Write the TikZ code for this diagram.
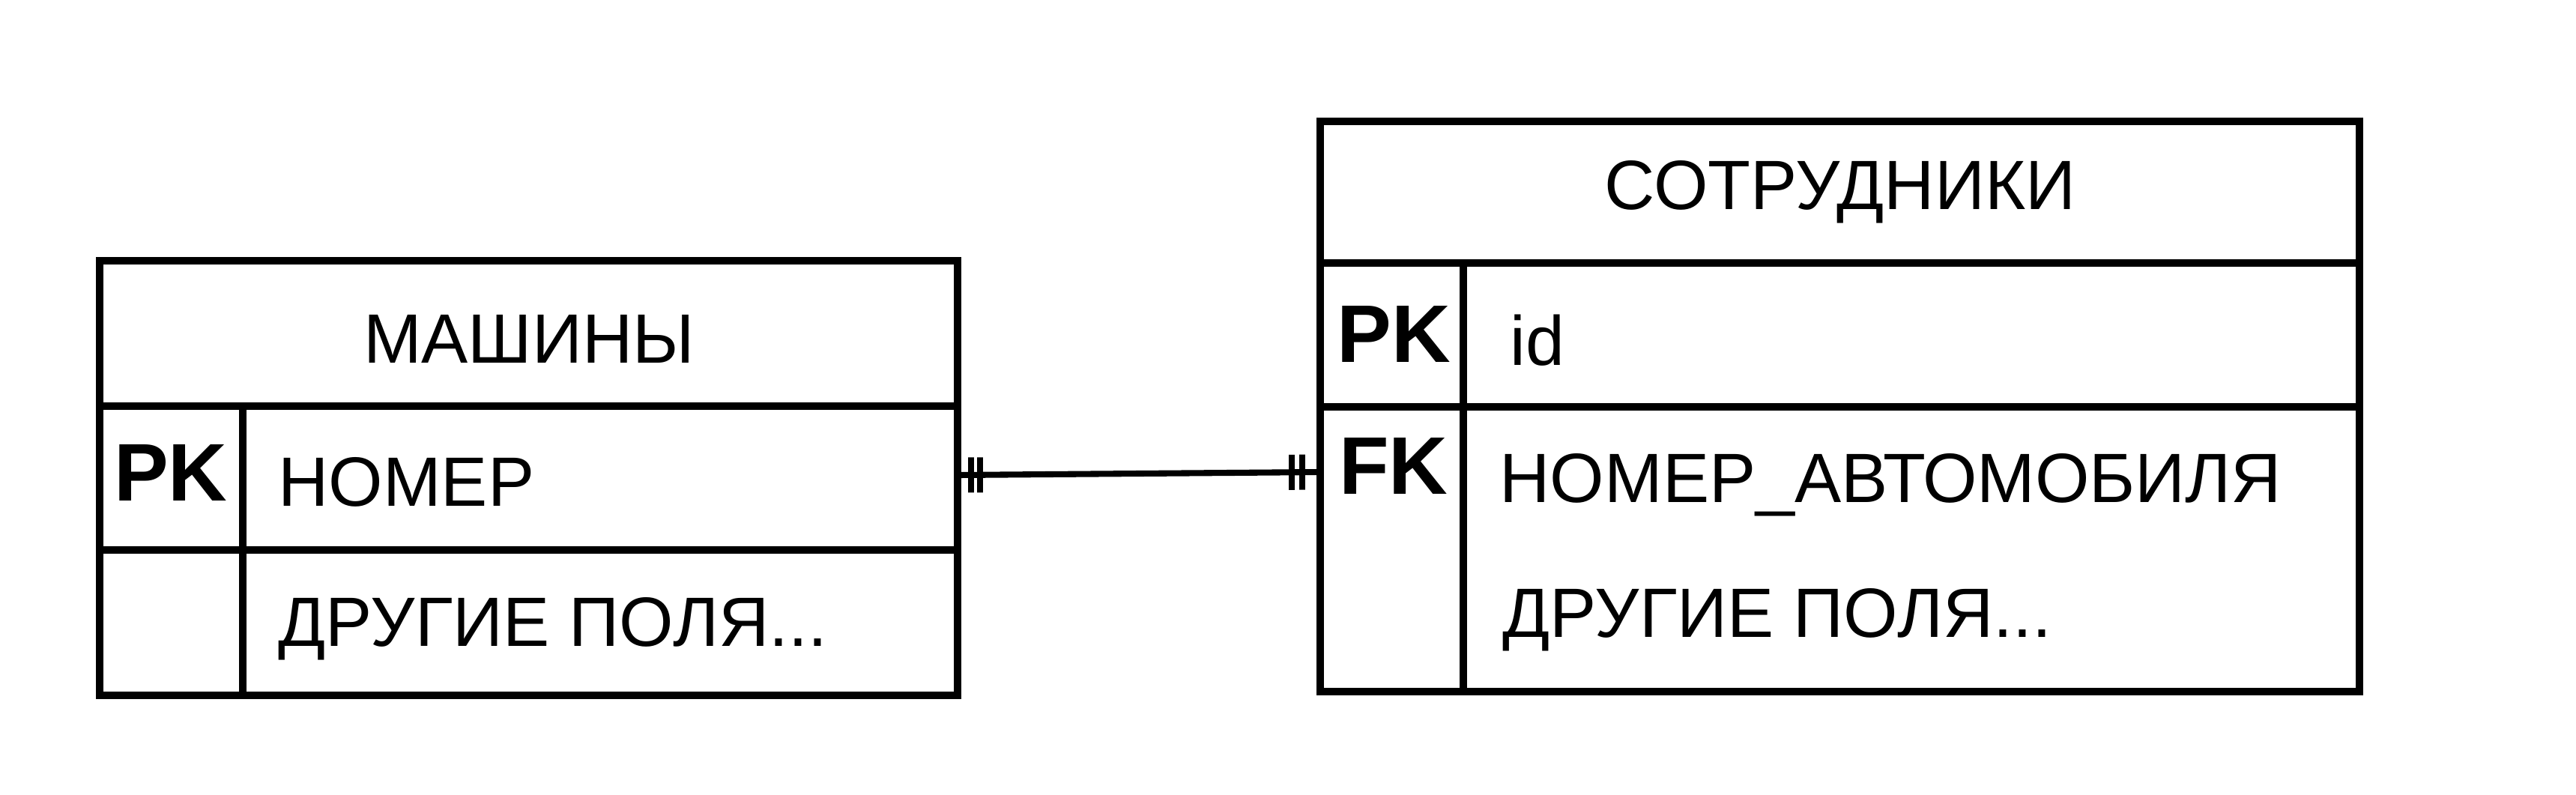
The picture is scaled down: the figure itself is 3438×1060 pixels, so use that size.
\documentclass[tikz,border=0pt]{standalone}
\usepackage{fontspec}
\setmainfont{Liberation Sans}

\begin{document}
\begin{tikzpicture}[x=0.01cm, y=-0.01cm, line width=2.6pt,
    title/.style={font=\fontsize{26.5}{30}\selectfont},
    fld/.style={anchor=base west, inner sep=0pt, font=\fontsize{26.5}{30}\selectfont},
    keycell/.style={inner sep=0pt, font=\bfseries\fontsize{31}{34}\selectfont},
    tick/.style={draw, inner sep=0pt, minimum width=0pt, minimum height=0.47cm,
                 line width=2.3pt, line cap=round}]
    \useasboundingbox (0,0) rectangle (3438,1060);

    % машины
    \draw (133,348) rectangle (1278,928);
    \draw (133,542) -- (1278,542) (133,734) -- (1278,734);
    \draw (324,542) -- (324,928);
    \node[title](M0) at (706,452) {МАШИНЫ};
    \node[keycell](M1k) at (228,631) {PK};
    \node[fld](M1) at (367,675) {НОМЕР};
    \node[fld](M2) at (367,862) {ДРУГИЕ ПОЛЯ...};

    % сотрудники
    \draw (1762,162) rectangle (3149,923);
    \draw (1762,351) -- (3149,351) (1762,543) -- (3149,543);
    \draw (1953,351) -- (1953,923);
    \node[title](S0) at (2456,256) {СОТРУДНИКИ};
    \node[keycell](S1k) at (1860,446) {PK};
    \node[fld](S1) at (2011,487) {id};
    \node[keycell](S2k) at (1860,622) {FK};
    \node[fld](S2) at (1997,670) {НОМЕР\_АВТОМОБИЛЯ};
    \node[fld](S3) at (2001,850) {ДРУГИЕ ПОЛЯ...};

    % one to one
    \coordinate (Mr) at (1278,634);
    \coordinate (Sl) at (1762,630);
    \draw[line width=2.3pt] (Mr) -- (Sl)
        node[tick,pos=0.037]{} node[tick,pos=0.062]{}
        node[tick,pos=0.921]{} node[tick,pos=0.95]{};
\end{tikzpicture}
\end{document}
